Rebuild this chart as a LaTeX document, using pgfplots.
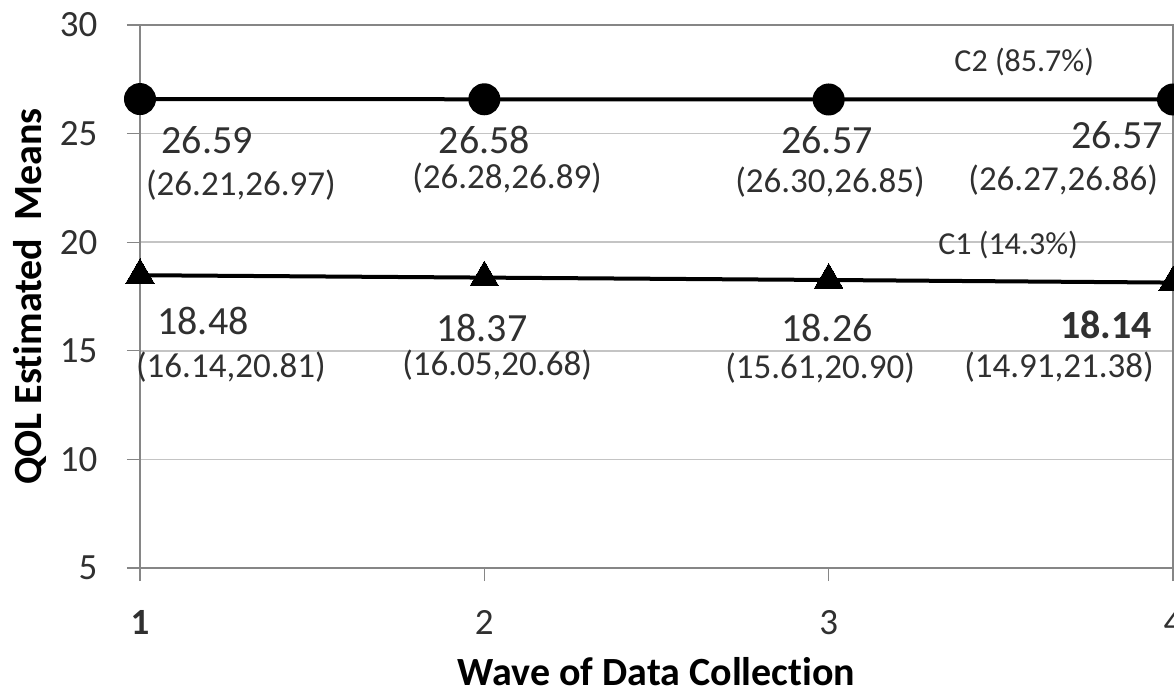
\documentclass[border=0pt]{standalone}
\usepackage{pgfplots}
\pgfplotsset{compat=1.18}
\usepackage{fontspec}
\setmainfont[Ligatures=NoCommon]{Carlito}
\definecolor{gridc}{HTML}{C4C4C4}
\definecolor{axc}{HTML}{868686}
\definecolor{txt}{HTML}{303030}
\begin{document}
\begin{tikzpicture}
\begin{axis}[
  name=ax,
  scale only axis,
  width=1033pt, height=543pt,
  xmin=1, xmax=4, ymin=5, ymax=30,
  xtick={1,2,3,4},
  xticklabels={\textbf{1},2,3,4},
  ytick={5,10,15,20,25,30},
  xtick pos=bottom, ytick pos=left,
  tick align=outside,
  major tick length=13pt,
  tick style={axc, line width=1.2pt},
  axis line style={axc, line width=1.5pt},
  ymajorgrids,
  grid style={gridc, line width=1.8pt},
  /pgf/number format/assume math mode=true,
  ticklabel style={font=\fontsize{37}{40}\selectfont, text=txt},
  xticklabel style={yshift=-26pt},
  yticklabel style={xshift=-26pt},
  xlabel={\textbf{Wave of Data Collection}},
  ylabel={\textbf{QOL Estimated\ \ Means}},
  label style={font=\fontsize{40}{44}\selectfont, text=black},
  xlabel style={at={(axis description cs:0.5,-0.19)}, anchor=center},
  ylabel style={at={(axis description cs:-0.1065,0.5)}, anchor=center},
  clip=false,
]
% C2
\addplot[black, line width=4pt, mark=*, mark size=14pt] coordinates {(1,26.59) (2,26.58) (3,26.57) (4,26.57)};
% C1
\addplot[black, line width=4pt, mark=triangle*, mark size=16.5pt, mark options={line width=0pt}] coordinates {(1,18.48) (2,18.37) (3,18.26) (4,18.14)};

\begin{scope}[every node/.style={text=txt, inner sep=0pt}]
\node[font=\fontsize{40}{44}\selectfont] at (axis cs:1.195,24.71) {26.59};
\node[font=\fontsize{35}{40}\selectfont] at (axis cs:1.293,22.63) {(26.21,26.97)};
\node[font=\fontsize{40}{44}\selectfont] at (axis cs:2.0,24.71) {26.58};
\node[font=\fontsize{35}{40}\selectfont] at (axis cs:2.066,22.96) {(26.28,26.89)};
\node[font=\fontsize{40}{44}\selectfont] at (axis cs:2.995,24.71) {26.57};
\node[font=\fontsize{35}{40}\selectfont] at (axis cs:3.004,22.77) {(26.30,26.85)};
\node[font=\fontsize{40}{44}\selectfont] at (axis cs:3.838,24.94) {26.57};
\node[font=\fontsize{35}{40}\selectfont] at (axis cs:3.681,22.86) {(26.27,26.86)};
\node[font=\fontsize{32}{36}\selectfont] at (axis cs:3.568,28.30) {C2 (85.7\%)};
\node[font=\fontsize{32}{36}\selectfont] at (axis cs:3.521,19.87) {C1 (14.3\%)};
\node[font=\fontsize{40}{44}\selectfont] at (axis cs:1.183,16.37) {18.48};
\node[font=\fontsize{35}{40}\selectfont] at (axis cs:1.264,14.25) {(16.14,20.81)};
\node[font=\fontsize{40}{44}\selectfont] at (axis cs:1.993,16.05) {18.37};
\node[font=\fontsize{35}{40}\selectfont] at (axis cs:2.037,14.35) {(16.05,20.68)};
\node[font=\fontsize{40}{44}\selectfont] at (axis cs:2.995,16.05) {18.26};
\node[font=\fontsize{35}{40}\selectfont] at (axis cs:2.975,14.21) {(15.61,20.90)};
\node[font=\fontsize{40}{44}\selectfont\bfseries] at (axis cs:3.806,16.19) {18.14};
\node[font=\fontsize{35}{40}\selectfont] at (axis cs:3.669,14.25) {(14.91,21.38)};
\end{scope}
\end{axis}
\pgfresetboundingbox
\path[use as bounding box] ([xshift=-140pt,yshift=-127pt]ax.south west) rectangle ([xshift=1pt,yshift=25pt]ax.north east);
\end{tikzpicture}
\end{document}
